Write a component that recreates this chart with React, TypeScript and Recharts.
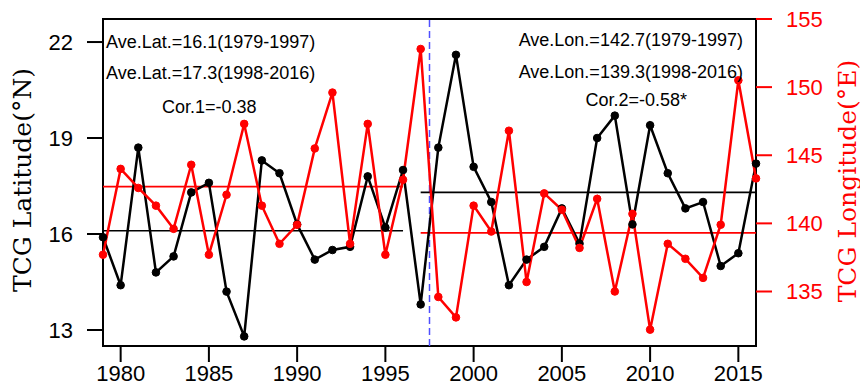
import React from 'react';
import { ComposedChart, Line, XAxis, YAxis, ReferenceLine, ReferenceArea } from 'recharts';

const years = [1979, 1980, 1981, 1982, 1983, 1984, 1985, 1986, 1987, 1988, 1989, 1990, 1991, 1992, 1993, 1994, 1995, 1996, 1997, 1998, 1999, 2000, 2001, 2002, 2003, 2004, 2005, 2006, 2007, 2008, 2009, 2010, 2011, 2012, 2013, 2014, 2015, 2016];
const latitude = [15.9, 14.4, 18.7, 14.8, 15.3, 17.3, 17.6, 14.2, 12.8, 18.3, 17.9, 16.3, 15.2, 15.5, 15.6, 17.8, 16.2, 18.0, 13.8, 18.7, 21.6, 18.1, 17.0, 14.4, 15.2, 15.6, 16.8, 15.7, 19.0, 19.7, 16.3, 19.4, 17.9, 16.8, 17.0, 15.0, 15.4, 18.2];
const longitude = [137.7, 144.0, 142.6, 141.3, 139.6, 144.3, 137.7, 142.1, 147.3, 141.3, 138.5, 139.9, 145.5, 149.6, 138.5, 147.3, 137.7, 143.2, 152.8, 134.6, 133.1, 141.3, 139.4, 146.8, 135.7, 142.2, 141.0, 138.2, 141.8, 135.0, 140.7, 132.2, 138.5, 137.4, 136.0, 139.9, 150.5, 143.3];

const xTicks = [1980, 1985, 1990, 1995, 2000, 2005, 2010, 2015];
const latTicks = [13, 16, 19, 22];
const lonTicks = [135, 140, 145, 150, 155];

const period1 = [1979, 1996];
const period2 = [1997, 2016];
const meanLat = [16.1, 17.3];
const meanLon = [142.7, 139.3];
const breakYear = 1997.5;

const leftNotes = ['Ave.Lat.=16.1(1979-1997)', 'Ave.Lat.=17.3(1998-2016)', 'Cor.1=-0.38'];
const rightNotes = ['Ave.Lon.=142.7(1979-1997)', 'Ave.Lon.=139.3(1998-2016)', 'Cor.2=-0.58*'];

const data = years.map((y, i) => ({ year: y, lat: latitude[i], lon: longitude[i] }));

const SANS = '"Liberation Sans", Arial, Helvetica, sans-serif';
const SERIF = '"DejaVu Serif", serif';

export default function App() {
  return (
    <div style={{ position: 'absolute', left: 0, top: 0, width: 860, height: 387, background: '#fff' }}>
      <ComposedChart width={860} height={387} data={data} margin={{ top: 19, right: 0, bottom: 0, left: 0 }}>
        <XAxis
          dataKey="year"
          type="number"
          domain={[1979, 2016]}
          ticks={xTicks}
          interval={0}
          height={41}
          tickSize={16}
          tickMargin={3}
          axisLine={false}
          tickLine={{ stroke: '#000', strokeWidth: 2 }}
          tick={{ fill: '#000', fontSize: 22, fontFamily: SANS }}
        />
        <YAxis
          yAxisId="lat"
          orientation="left"
          width={103}
          domain={[12.5, 22.72]}
          ticks={latTicks}
          interval={0}
          tickSize={16}
          tickMargin={14}
          axisLine={false}
          tickLine={{ stroke: '#000', strokeWidth: 2 }}
          tick={{ fill: '#000', fontSize: 22, fontFamily: SANS }}
        />
        <YAxis
          yAxisId="lon"
          orientation="right"
          width={104}
          domain={[131, 155]}
          ticks={lonTicks}
          interval={0}
          tickSize={16}
          tickMargin={14}
          axisLine={false}
          tickLine={{ stroke: '#ff0000', strokeWidth: 2 }}
          tick={{ fill: '#ff0000', fontSize: 22, fontFamily: SANS }}
        />
        <ReferenceArea
          yAxisId="lat"
          x1={1979}
          x2={2016}
          y1={12.5}
          y2={22.72}
          fill="none"
          fillOpacity={0}
          stroke="#000"
          strokeWidth={2}
          ifOverflow="visible"
        />
        <ReferenceLine
          yAxisId="lat"
          x={breakYear}
          stroke="#4f4fff"
          strokeWidth={1.5}
          strokeDasharray="7 4"
        />
        <ReferenceLine
          yAxisId="lat"
          segment={[{ x: period1[0], y: meanLat[0] }, { x: period1[1], y: meanLat[0] }]}
          stroke="#000"
          strokeWidth={1.6}
        />
        <ReferenceLine
          yAxisId="lat"
          segment={[{ x: period2[0], y: meanLat[1] }, { x: period2[1], y: meanLat[1] }]}
          stroke="#000"
          strokeWidth={1.6}
        />
        <ReferenceLine
          yAxisId="lon"
          segment={[{ x: period1[0], y: meanLon[0] }, { x: period1[1], y: meanLon[0] }]}
          stroke="#ff0000"
          strokeWidth={1.6}
        />
        <ReferenceLine
          yAxisId="lon"
          segment={[{ x: period2[0], y: meanLon[1] }, { x: period2[1], y: meanLon[1] }]}
          stroke="#ff0000"
          strokeWidth={1.6}
        />
        <Line
          yAxisId="lat"
          dataKey="lat"
          type="linear"
          stroke="#000"
          strokeWidth={2.5}
          dot={{ r: 3.8, fill: '#000', stroke: '#000', strokeWidth: 1 }}
          activeDot={false}
          isAnimationActive={false}
        />
        <Line
          yAxisId="lon"
          dataKey="lon"
          type="linear"
          stroke="#ff0000"
          strokeWidth={2.5}
          dot={{ r: 3.8, fill: '#ff0000', stroke: '#ff0000', strokeWidth: 1 }}
          activeDot={false}
          isAnimationActive={false}
        />
      </ComposedChart>
      <svg
        width={860}
        height={387}
        style={{ position: 'absolute', left: 0, top: 0, pointerEvents: 'none' }}
      >
        <text x={106} y={42} dominantBaseline="central" fontSize={18} fontFamily={SANS} fill="#000">{leftNotes[0]}</text>
        <text x={106} y={73} dominantBaseline="central" fontSize={18} fontFamily={SANS} fill="#000">{leftNotes[1]}</text>
        <text x={162} y={107} dominantBaseline="central" fontSize={18} fontFamily={SANS} fill="#000">{leftNotes[2]}</text>
        <text x={743} y={40} textAnchor="end" dominantBaseline="central" fontSize={18} fontFamily={SANS} fill="#000">{rightNotes[0]}</text>
        <text x={743} y={72} textAnchor="end" dominantBaseline="central" fontSize={18} fontFamily={SANS} fill="#000">{rightNotes[1]}</text>
        <text x={687} y={100} textAnchor="end" dominantBaseline="central" fontSize={18} fontFamily={SANS} fill="#000">{rightNotes[2]}</text>
        <text
          x={0}
          y={0}
          transform="translate(22,180) rotate(-90)"
          textAnchor="middle"
          dominantBaseline="central"
          fontSize={25}
          fontFamily={SERIF}
          fill="#000"
        >
          TCG Latitude(°N)
        </text>
        <text
          x={0}
          y={0}
          transform="translate(847,181) rotate(-90)"
          textAnchor="middle"
          dominantBaseline="central"
          fontSize={25}
          fontFamily={SERIF}
          fill="#ff0000"
        >
          TCG Longitude(°E)
        </text>
      </svg>
    </div>
  );
}
